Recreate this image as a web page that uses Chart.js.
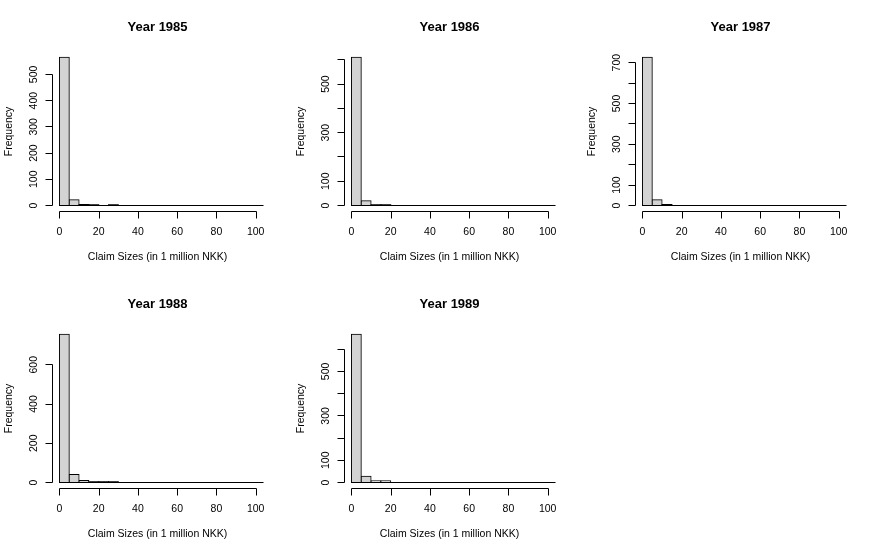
<!DOCTYPE html>
<html>
<head>
<meta charset="utf-8">
<title>Claim sizes by year</title>
<script src="https://cdn.jsdelivr.net/npm/chart.js@4.4.1/dist/chart.umd.min.js"></script>
<style>
  html, body { margin: 0; padding: 0; background: #fff; }
  #wrap { position: relative; width: 874px; height: 553px; overflow: hidden; }
  .panel { position: absolute; width: 291px; height: 276px; }
</style>
</head>
<body>
<div id="wrap">
  <div class="panel" style="left:0px;top:0px"><canvas id="h1985" width="291" height="276"></canvas></div>
  <div class="panel" style="left:292px;top:0px"><canvas id="h1986" width="291" height="276"></canvas></div>
  <div class="panel" style="left:583px;top:0px"><canvas id="h1987" width="291" height="276"></canvas></div>
  <div class="panel" style="left:0px;top:277px"><canvas id="h1988" width="291" height="276"></canvas></div>
  <div class="panel" style="left:292px;top:277px"><canvas id="h1989" width="291" height="276"></canvas></div>
</div>
<script>
// histogram breaks, 5 million NKK per bin
const breaks = [0, 5, 10, 15, 20, 25, 30, 35, 40, 45, 50, 55, 60, 65, 70, 75, 80, 85, 90, 95, 100, 105];

// counts per bin
const counts1985 = [565, 22, 4, 3, 0, 3, 0, 0, 0, 0, 0, 0, 0, 0, 0, 0, 0, 0, 0, 0, 0];
const counts1986 = [610, 20, 3, 3, 0, 0, 0, 0, 0, 0, 0, 0, 0, 0, 0, 0, 0, 0, 0, 0, 0];
const counts1987 = [726, 28, 5, 0, 0, 0, 0, 0, 0, 0, 0, 0, 0, 0, 0, 0, 0, 0, 0, 0, 0];
const counts1988 = [755, 41, 10, 4, 4, 4, 0, 0, 0, 0, 0, 0, 0, 0, 0, 0, 0, 0, 0, 0, 0];
const counts1989 = [667, 28, 8, 8, 0, 0, 0, 0, 0, 0, 0, 0, 0, 0, 0, 0, 0, 0, 0, 0, 0];

// axis ticks (R drops labels that would overlap, hence the blanks)
const xTicks = [0, 20, 40, 60, 80, 100];
const yTicks1985 = [0, 100, 200, 300, 400, 500];
const yLabels1985 = ['0', '100', '200', '300', '400', '500'];
const yTicks1986 = [0, 100, 200, 300, 400, 500, 600];
const yLabels1986 = ['0', '100', '', '300', '', '500', ''];
const yTicks1987 = [0, 100, 200, 300, 400, 500, 600, 700];
const yLabels1987 = ['0', '100', '', '300', '', '500', '', '700'];
const yTicks1988 = [0, 200, 400, 600];
const yLabels1988 = ['0', '200', '400', '600'];
const yTicks1989 = [0, 100, 200, 300, 400, 500, 600];
const yLabels1989 = ['0', '100', '', '300', '', '500', ''];

const xTitle = 'Claim Sizes (in 1 million NKK)';
const yTitle = 'Frequency';

const FONT = '"Liberation Sans", Arial, sans-serif';

// R-style axes: detached lines from first to last tick, rotated y labels
const rAxes = {
  id: 'rAxes',
  afterDraw(chart, args, opts) {
    const {ctx, chartArea: a} = chart;
    const xs = chart.scales.x, ys = chart.scales.y;
    const ax = Math.round(a.left) + 0.5;
    const ay = Math.round(a.bottom) + 0.5;
    ctx.save();
    ctx.strokeStyle = '#000';
    ctx.fillStyle = '#000';
    ctx.lineWidth = 1;

    // y axis
    const yt = opts.yTicks;
    const py = v => Math.round(ys.getPixelForValue(v) - 0.5) + 0.5;
    ctx.beginPath();
    ctx.moveTo(ax, py(yt[0]));
    ctx.lineTo(ax, py(yt[yt.length - 1]));
    yt.forEach(v => { ctx.moveTo(ax, py(v)); ctx.lineTo(ax - 7, py(v)); });
    // x axis
    const px = v => Math.round(xs.getPixelForValue(v)) + 0.5;
    ctx.moveTo(px(xTicks[0]), ay);
    ctx.lineTo(px(xTicks[xTicks.length - 1]), ay);
    xTicks.forEach(v => { ctx.moveTo(px(v), ay); ctx.lineTo(px(v), ay + 7); });
    ctx.stroke();

    ctx.font = '10.5px ' + FONT;
    ctx.textAlign = 'center';
    ctx.textBaseline = 'alphabetic';
    xTicks.forEach(v => ctx.fillText(String(v), xs.getPixelForValue(v), a.bottom + 24));
    ctx.fillText(xTitle, (a.left + a.right) / 2, a.bottom + 49);

    yt.forEach((v, i) => {
      if (!opts.yLabels[i]) return;
      ctx.save();
      ctx.translate(a.left - 14.6, ys.getPixelForValue(v));
      ctx.rotate(-Math.PI / 2);
      ctx.fillText(opts.yLabels[i], 0, 0);
      ctx.restore();
    });
    ctx.save();
    ctx.translate(a.left - 40, (a.top + a.bottom) / 2);
    ctx.rotate(-Math.PI / 2);
    ctx.fillText(yTitle, 0, 0);
    ctx.restore();

    ctx.font = 'bold 13px ' + FONT;
    ctx.fillText(opts.title, (a.left + a.right) / 2, a.top - 20.7);
    ctx.restore();
  }
};

// bars thinner than ~1.5px render as solid outline in R
function tiny(c) {
  const ys = c.chart.scales.y;
  const v = c.parsed ? c.parsed.y : 0;
  return Math.abs(ys.getPixelForValue(0) - ys.getPixelForValue(v)) < 1.5;
}

function makeHist(id, title, counts, yTicks, yLabels) {
  const peak = Math.max(...counts);
  const points = counts.map((c, i) => ({x: (breaks[i] + breaks[i + 1]) / 2, y: c}));
  new Chart(document.getElementById(id), {
    type: 'bar',
    data: {
      datasets: [{
        data: points,
        backgroundColor: c => tiny(c) ? '#000000' : '#d3d3d3',
        borderColor: '#000000',
        borderWidth: c => tiny(c) ? 0 : 1,
        borderSkipped: false,
        inflateAmount: 0.5,
        barPercentage: 1,
        categoryPercentage: 1,
        clip: 0
      }]
    },
    options: {
      responsive: false,
      animation: false,
      events: [],
      // 160px tall plot so that the zero line sits on a whole pixel row
      layout: { padding: { left: 51.6, right: 27.5, top: 51.43, bottom: 64.57 } },
      scales: {
        x: { type: 'linear', display: false, offset: false, min: -4, max: 104 },
        y: { type: 'linear', display: false, min: -0.04 * peak, max: 1.04 * peak }
      },
      plugins: {
        legend: { display: false },
        tooltip: { enabled: false },
        rAxes: { title: title, yTicks: yTicks, yLabels: yLabels }
      }
    },
    plugins: [rAxes]
  });
}

makeHist('h1985', 'Year 1985', counts1985, yTicks1985, yLabels1985);
makeHist('h1986', 'Year 1986', counts1986, yTicks1986, yLabels1986);
makeHist('h1987', 'Year 1987', counts1987, yTicks1987, yLabels1987);
makeHist('h1988', 'Year 1988', counts1988, yTicks1988, yLabels1988);
makeHist('h1989', 'Year 1989', counts1989, yTicks1989, yLabels1989);
</script>
</body>
</html>
